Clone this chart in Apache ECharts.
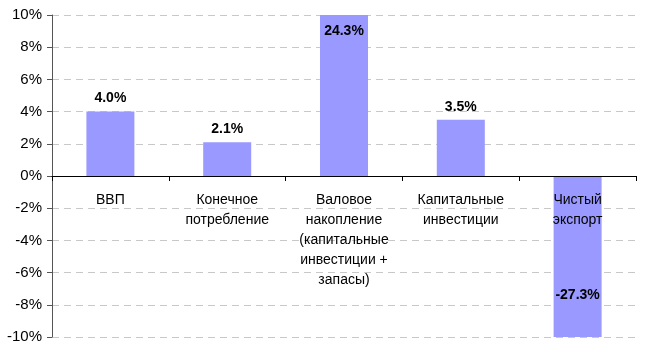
<!DOCTYPE html>
<html><head><meta charset="utf-8">
<script src="https://cdn.jsdelivr.net/npm/echarts@6/dist/echarts.min.js"></script>
<style>html,body{margin:0;padding:0;background:#fff}#c{width:650px;height:358px}</style>
</head><body><div id="c"></div>
<script>
const categories = ['ВВП', 'Конечное\nпотребление', 'Валовое\nнакопление\n(капитальные\nинвестиции +\nзапасы)', 'Капитальные\nинвестиции', 'Чистый\nэкспорт'];
const values = [4.0, 2.1, 24.3, 3.5, -27.3];
const yMin = -10, yMax = 10, yStep = 2;

const W = 650, H = 358;
const G = {left: 52, right: 14, top: 15, bottom: 21};
const plotH = H - G.top - G.bottom;
const zeroOffset = -plotH * (0 - yMin) / (yMax - yMin);

const chart = echarts.init(document.getElementById('c'));
const font = '"Liberation Sans", Arial, sans-serif';
const data = values.map(v => {
  const shown = Math.max(yMin, Math.min(yMax, v));
  const clipped = shown !== v;
  return {
    value: shown,
    real: v,
    label: clipped
      ? (v > 0 ? {position: 'insideTop', distance: 9} : {position: 'insideBottom', distance: 35})
      : {position: 'top', distance: 6}
  };
});
chart.setOption({
  animation: false,
  grid: Object.assign({containLabel: false, outerBoundsMode: 'none'}, G),
  xAxis: {
    type: 'category', data: categories, position: 'bottom', offset: zeroOffset, z: 5,
    axisLine: {onZero: false, lineStyle: {color: '#000', width: 1}},
    axisTick: {show: true, alignWithLabel: false, length: 5, lineStyle: {color: '#000'}},
    axisLabel: {color: '#000', fontFamily: font, fontSize: 14, lineHeight: 20, margin: 14, interval: 0, verticalAlign: 'top'},
    splitLine: {show: false}
  },
  yAxis: {
    type: 'value', min: yMin, max: yMax, interval: yStep,
    axisLine: {show: true, lineStyle: {color: '#555'}},
    axisTick: {show: true, length: 5, lineStyle: {color: '#555'}},
    axisLabel: {color: '#000', fontFamily: font, fontSize: 15, margin: 10, formatter: v => v + '%'},
    splitLine: {show: true, lineStyle: {color: '#c8c8c8', type: [7, 5], width: 1}}
  },
  series: [{
    type: 'bar', data: data, barWidth: 48,
    itemStyle: {color: '#9999ff'},
    label: {show: true, color: '#000', fontFamily: font, fontSize: 14, fontWeight: 'bold',
      formatter: p => p.data.real.toFixed(1) + '%'}
  }]
});
</script></body></html>
